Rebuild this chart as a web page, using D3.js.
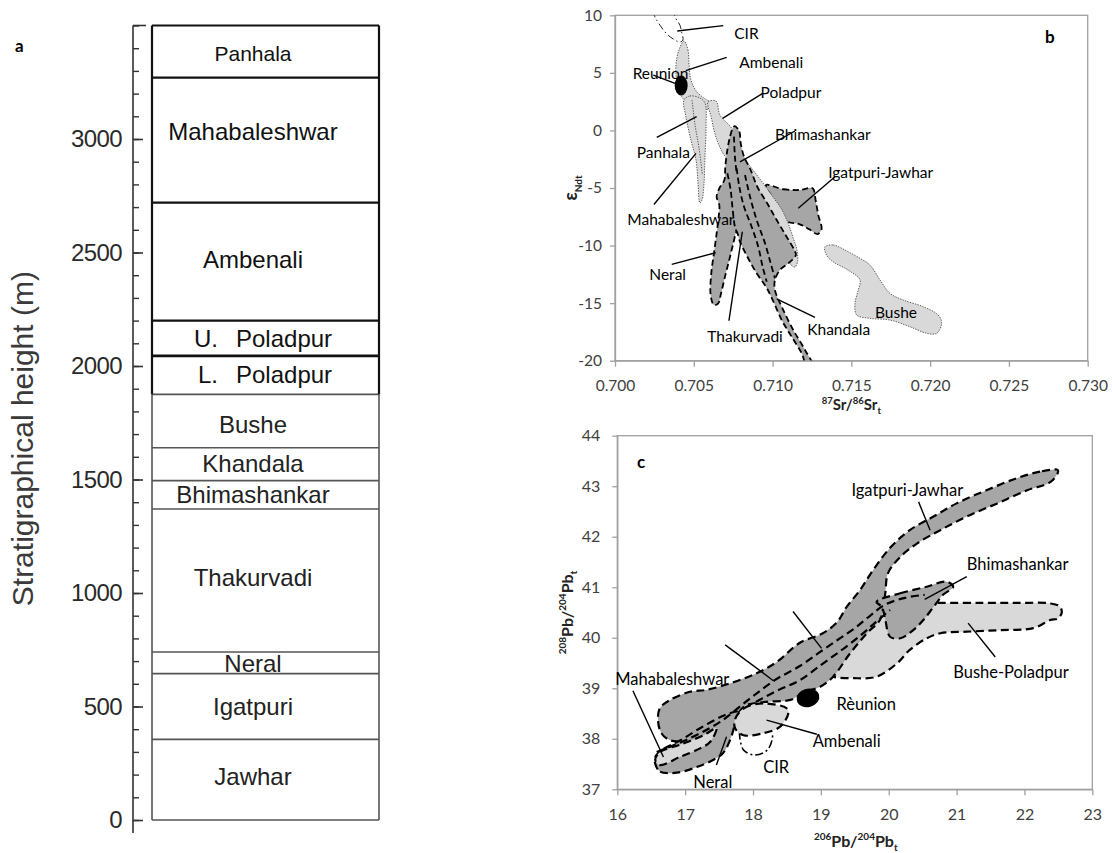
<!DOCTYPE html>
<html>
<head>
<meta charset="utf-8">
<script src="https://cdn.jsdelivr.net/npm/d3@7/dist/d3.min.js"></script>
<style>
  body { margin: 0; background: #fff; }
  svg { display: block; }
</style>
</head>
<body>
<svg id="fig" width="1112" height="853"></svg>
<script>
// ================= Panel a: stratigraphic column =================
const formations    = ["Jawhar", "Igatpuri", "Neral", "Thakurvadi", "Bhimashankar", "Khandala",
                       "Bushe", "L. Poladpur", "U. Poladpur", "Ambenali", "Mahabaleshwar", "Panhala"];
const formationBase = [0, 355, 645, 740, 1370, 1495, 1640, 1875, 2045, 2200, 2720, 3270];
const formationTop  = [355, 645, 740, 1370, 1495, 1640, 1875, 2045, 2200, 2720, 3270, 3500];
const labelHeight   = [191, 498, 690, 1069, 1435, 1571, 1743, 1961, 2122, 2470, 3033, 3376];
const heightTicks   = [0, 500, 1000, 1500, 2000, 2500, 3000];
const heightMinor   = d3.range(0, 3501, 100);

// ================= Panel b: eNd vs 87Sr/86Sr =================
const srTicks = [0.700, 0.705, 0.710, 0.715, 0.720, 0.725, 0.730];
const ndTicks = [-20, -15, -10, -5, 0, 5, 10];

const cirNd = [[0.7024,10.4],[0.70254,9.85],[0.70286,9.13],[0.70338,8.26],[0.70412,7.68],
               [0.70431,7.85],[0.70422,8.58],[0.70412,9.15],[0.70387,9.71],[0.7037,10.3]];
const ambenaliNd = [[0.70438,7.77],[0.70463,6.99],[0.7047,5.68],[0.70482,4.38],[0.7052,3.34],
                    [0.70584,2.64],[0.70615,2.38],[0.70603,1.95],[0.70539,1.77],[0.70476,2.21],
                    [0.70425,2.90],[0.70393,4.20],[0.70387,5.68],[0.70406,6.99]];
const panhalaNd = [[0.70438,2.64],[0.70476,2.99],[0.70539,2.82],[0.70571,2.38],[0.70578,0.47],
                   [0.70571,-2.30],[0.70565,-4.57],[0.70552,-6.04],[0.70539,-6.30],[0.70527,-4.57],
                   [0.70514,-2.57],[0.70482,-0.83],[0.7045,1.17]];
const panhalaInnerNd = [[0.70489,2.64],[0.70508,0.47],[0.70533,-1.5],[0.70555,-3.87]];
const poladpurNd = [[0.7059,2.47],[0.70641,2.56],[0.70666,1.34],[0.70749,0.04],[0.70812,-2.22],
                    [0.70876,-3.44],[0.70939,-4.57],[0.71003,-5.78],[0.7106,-6.91],[0.71098,-8.04],
                    [0.71129,-9.26],[0.71155,-10.39],[0.71158,-11.43],[0.71142,-11.86],[0.71117,-11.69],
                    [0.71091,-10.82],[0.71015,-9.08],[0.7092,-6.91],[0.70825,-4.74],[0.70749,-3.00],
                    [0.70692,-2.13],[0.70654,-1.09],[0.70628,0.04],[0.70609,1.25],[0.7059,2.12]];
const igatpuriNd = [[0.70958,-4.74],[0.71068,-5.11],[0.71174,-5.17],[0.71254,-5.03],[0.71273,-6.04],
                    [0.7129,-7.35],[0.71311,-8.59],[0.71286,-9.00],[0.71233,-8.59],[0.71169,-8.13],
                    [0.711,-7.95],[0.71047,-7.20],[0.70994,-5.76]];
// envelope of Bhimashankar, Thakurvadi, Khandala and Neral
const coreNd = [[0.70761,0.38],[0.70789,-0.11],[0.70798,-1.12],[0.70819,-2.28],[0.70861,-3.44],
                [0.70903,-4.89],[0.70966,-6.33],[0.71026,-7.78],[0.71089,-9.23],[0.71138,-10.39],
                [0.71148,-10.82],[0.711,-11.54],[0.71047,-12.12],[0.71015,-12.99],[0.71015,-13.86],
                [0.71058,-15.31],[0.71131,-17.33],[0.71206,-19.07],[0.71254,-20.4],[0.71216,-20.4],
                [0.71185,-19.36],[0.71121,-17.92],[0.71058,-16.47],[0.71001,-14.73],[0.70958,-13.57],
                [0.70899,-12.41],[0.7084,-10.97],[0.70793,-9.66],[0.70772,-8.80],[0.70751,-9.80],
                [0.70725,-11.25],[0.70698,-12.70],[0.70673,-14.15],[0.70655,-15.02],[0.70628,-15.16],
                [0.70607,-14.30],[0.70611,-12.41],[0.70628,-10.67],[0.70645,-8.94],[0.70658,-7.49],
                [0.70662,-6.48],[0.70645,-5.76],[0.70662,-5.03],[0.70694,-4.31],[0.707,-3.15],
                [0.70713,-1.70],[0.7073,-0.54],[0.70747,0.18]];
const coreSeamsNd = [
  [[0.70755,-0.54],[0.70761,-2.28],[0.70772,-3.72]],
  [[0.70713,-3.72],[0.70734,-5.17],[0.70747,-6.91],[0.70761,-8.36],[0.70776,-8.94]],
  [[0.70772,-3.29],[0.70789,-4.89],[0.70819,-6.62],[0.70867,-8.36],[0.70909,-10.10],[0.70937,-11.84],[0.70963,-13.14]],
  [[0.70825,-3.87],[0.70857,-5.76],[0.70899,-7.78],[0.70952,-9.80],[0.70988,-11.54],[0.71015,-12.85]]
];
const busheNd = [[0.71332,-10.12],[0.71385,-9.95],[0.71478,-10.53],[0.71555,-11.11],[0.71618,-11.69],
                 [0.71682,-12.99],[0.71745,-14.15],[0.71829,-14.73],[0.71956,-15.31],[0.72051,-16.03],
                 [0.72073,-16.75],[0.72041,-17.62],[0.71978,-17.62],[0.71872,-17.05],[0.71745,-16.47],
                 [0.71618,-16.32],[0.71534,-16.03],[0.71523,-15.02],[0.71544,-13.86],[0.71555,-12.99],
                 [0.71478,-12.12],[0.71383,-11.40],[0.71342,-10.82]];
const reunionNd = [0.7042, 3.9];

const ndLabelText = ["CIR", "Ambenali", "Reunion", "Poladpur", "Bhimashankar", "Igatpuri-Jawhar",
                     "Panhala", "Mahabaleshwar", "Neral", "Thakurvadi", "Khandala", "Bushe"];
const ndLabelAt = [[0.70757,7.94],[0.70789,5.40],[0.70112,4.49],[0.70924,2.79],[0.71015,-0.83],
                   [0.71353,-4.16],[0.70138,-2.42],[0.70078,-8.21],[0.70218,-12.99],[0.70586,-18.35],
                   [0.7122,-17.77],[0.7165,-16.32]];
const ndLeaders = [
  [[0.70395,8.64],[0.70687,9.10]],
  [[0.70449,5.19],[0.70709,6.35]],
  [[0.70243,4.81],[0.70381,4.09]],
  [[0.70683,1.05],[0.70937,3.22]],
  [[0.70793,-2.74],[0.71142,-0.05]],
  [[0.71163,-6.76],[0.71396,-4.02]],
  [[0.70265,-0.60],[0.70518,1.19]],
  [[0.70247,-6.43],[0.70514,-1.99]],
  [[0.7036,-11.63],[0.70639,-10.62]],
  [[0.70723,-16.53],[0.70808,-8.80]],
  [[0.71026,-14.64],[0.71269,-16.23]]
];

// ================= Panel c: 208Pb/204Pb vs 206Pb/204Pb =================
const pb6Ticks = [16, 17, 18, 19, 20, 21, 22, 23];
const pb8Ticks = [37, 38, 39, 40, 41, 42, 43, 44];

const bushePoladpurPb = [[19.82,40.71],[20.17,40.69],[20.76,40.69],[21.40,40.69],[21.89,40.69],
                         [22.38,40.68],[22.52,40.62],[22.55,40.50],[22.49,40.38],[22.38,40.35],
                         [22.13,40.19],[21.64,40.15],[21.15,40.12],[20.76,40.09],[20.56,39.99],
                         [20.31,39.76],[20.12,39.49],[19.82,39.23],[19.48,39.20],[19.18,39.23],
                         [19.06,39.32],[19.29,39.76],[19.58,40.25]];
const cirPb = [[17.80,38.14],[17.81,37.98],[17.86,37.78],[18.00,37.68],[18.15,37.72],
               [18.23,37.81],[18.28,37.97],[18.29,38.10]];
const ambenaliPb = [[17.73,38.37],[17.86,38.60],[18.15,38.70],[18.50,38.60],[18.52,38.50],
                    [18.40,38.24],[18.15,38.11],[17.86,38.07],[17.74,38.20]];
const igatpuriPb = [[22.49,43.32],[22.23,43.29],[21.89,43.16],[21.44,42.92],[21.00,42.66],
                    [20.66,42.40],[20.31,42.13],[20.02,41.78],[19.77,41.34],[19.58,40.95],
                    [19.38,40.61],[19.24,40.31],[19.03,40.09],[18.69,39.90],[18.35,39.52],
                    [18.06,39.30],[17.71,39.12],[17.32,38.97],[17.07,38.93],[16.78,38.77],
                    [16.63,38.61],[16.60,38.37],[16.65,38.11],[16.78,37.97],[16.97,37.96],
                    [17.17,38.05],[17.39,38.21],[17.73,38.43],[17.88,38.65],[18.18,38.73],
                    [18.55,38.77],[18.77,38.93],[18.99,39.03],[19.18,39.23],[19.43,39.69],
                    [19.68,40.09],[19.87,40.35],[19.92,40.61],[19.95,40.89],[19.99,41.28],
                    [20.17,41.60],[20.42,41.87],[20.76,42.13],[21.15,42.40],[21.60,42.66],
                    [22.04,42.92],[22.38,43.08],[22.49,43.26]];
const neralPb = [[16.56,37.50],[16.63,37.35],[16.88,37.33],[17.17,37.44],[17.41,37.58],
                 [17.56,37.72],[17.66,37.97],[17.73,38.27],[17.78,38.53],[17.59,38.47],
                 [17.22,38.21],[16.93,37.97],[16.66,37.78],[16.56,37.64]];
const bhimashankarPb = [[19.82,40.71],[20.17,40.88],[20.56,41.01],[20.85,41.11],[20.95,41.01],
                        [20.80,40.85],[20.66,40.61],[20.51,40.35],[20.36,40.15],[20.17,39.99],
                        [20.02,40.02],[19.95,40.35],[19.90,40.61]];
const mahabaleshwarPb = [[16.56,37.58],[16.63,37.74],[16.92,37.88],[17.27,38.07],[17.46,38.21],
                         [17.37,37.94],[17.22,37.81],[16.92,37.64],[16.63,37.48]];
const seamsPb = [
  [[16.58,37.74],[17.07,38.01],[17.51,38.33],[17.93,38.77],[18.32,39.16],[18.69,39.44],
   [18.99,39.72],[19.25,39.96],[19.50,40.19],[19.72,40.43],[19.94,40.65],[20.24,40.79],[20.53,40.85]],
  [[17.88,38.61],[18.32,38.93],[18.69,39.16],[19.02,39.48],[19.31,39.76],[19.58,40.04],
   [19.81,40.31],[20.02,40.55]]
];
const reunionPb = [18.81, 38.81];

const pbLabelText = ["Igatpuri-Jawhar", "Bhimashankar", "Bushe-Poladpur", "Rèunion", "Ambenali",
                     "CIR", "Neral", "Mahabaleshwar"];
const pbLabelAt = [[19.45,42.81],[21.15,41.34],[20.95,39.20],[19.23,38.57],[18.88,37.84],
                   [18.15,37.32],[17.12,37.02],[15.97,39.06]];
const pbLeaders = [
  [[20.44,42.69],[20.61,42.13]],
  [[20.53,40.76],[21.15,41.21]],
  [[21.17,40.29],[21.57,39.62]],
  [[18.20,38.37],[18.94,38.09]],
  [[17.46,37.48],[17.61,38.04]],
  [[16.23,38.95],[16.68,37.64]],
  [[17.59,39.86],[18.30,39.15]],
  [[18.59,40.52],[19.01,39.79]]
];

// ================= drawing =================
const svg = d3.select("#fig");
const DARK = "#a6a6a6", LIGHT = "#d9d9d9", AXIS = "#a0a0a0", TICKTXT = "#404040";
const CAL = "Lato, 'Open Sans', sans-serif";
const ARIAL = "'Liberation Sans', Arial, sans-serif";

function rich(textSel, parts, size, small) {
  let shift = 0;
  parts.forEach(([s, kind]) => {
    const target = kind === "sup" ? -0.42 * size : kind === "sub" ? 0.28 * size : 0;
    textSel.append("tspan").attr("dy", target - shift)
      .attr("font-size", kind ? small : size).text(s);
    shift = target;
  });
}

// ---------- panel a ----------
{
  const g = svg.append("g");
  const y = d3.scaleLinear().domain([0, 3500]).range([820, 25.5]);
  const axX = 133, colL = 152, colR = 379;

  // axis spine and cap
  g.append("line").attr("x1", axX).attr("x2", axX)
    .attr("y1", y(3500)).attr("y2", y(0) + 13)
    .attr("stroke", "#333").attr("stroke-width", 1.6);
  g.append("line").attr("x1", axX).attr("x2", axX + 13)
    .attr("y1", y(3500)).attr("y2", y(3500))
    .attr("stroke", "#333").attr("stroke-width", 1.6);

  const minor = g.append("g").attr("transform", `translate(${axX},0)`)
    .call(d3.axisLeft(y).tickValues(heightMinor).tickSize(-6).tickFormat(""));
  minor.select(".domain").remove();
  minor.selectAll("line").attr("stroke", "#333").attr("stroke-width", 1.4);

  const major = g.append("g").attr("transform", `translate(${axX},0)`)
    .call(d3.axisLeft(y).tickValues(heightTicks).tickSize(-10).tickPadding(11)
      .tickFormat(d => String(d)));
  major.select(".domain").remove();
  major.selectAll("line").attr("stroke", "#333").attr("stroke-width", 1.6);
  major.selectAll("text").attr("font-family", ARIAL).attr("font-size", 24)
    .attr("fill", "#2a2a2a").attr("letter-spacing", -0.6);

  g.append("text")
    .attr("transform", `translate(33,${y(1680)}) rotate(-90)`)
    .attr("text-anchor", "middle").attr("font-family", ARIAL).attr("font-size", 30)
    .attr("fill", "#3a3a3a").text("Stratigraphical height (m)");

  // column boundaries: the upper part (Poladpur to Panhala) in black, the lower part in grey
  const split = 1875;
  const upper = { stroke: "#111", w: 2.2 }, lower = { stroke: "#555", w: 1.6 };
  const bounds = Array.from(new Set(formationBase.concat(formationTop)));
  bounds.forEach(h => {
    const s = h > split ? upper : lower;
    g.append("line").attr("x1", colL).attr("x2", colR).attr("y1", y(h)).attr("y2", y(h))
      .attr("stroke", s.stroke).attr("stroke-width", h === 2045 ? 2.8 : s.w);
  });
  [colL, colR].forEach(x => {
    g.append("line").attr("x1", x).attr("x2", x).attr("y1", y(3500)).attr("y2", y(split))
      .attr("stroke", upper.stroke).attr("stroke-width", upper.w);
    g.append("line").attr("x1", x).attr("x2", x).attr("y1", y(split)).attr("y2", y(0))
      .attr("stroke", lower.stroke).attr("stroke-width", lower.w);
  });

  formations.forEach((name, i) => {
    const yy = y(labelHeight[i]);
    const size = name === "Panhala" ? 21 : 24;
    const m = name.match(/^([UL]\.)\s+(.*)$/);
    if (m) {
      g.append("text").attr("x", name[0] === "U" ? 194 : 198).attr("y", yy).attr("dy", "0.35em")
        .attr("font-family", ARIAL).attr("font-size", size).attr("fill", "#111").text(m[1]);
      g.append("text").attr("x", 236).attr("y", yy).attr("dy", "0.35em")
        .attr("font-family", ARIAL).attr("font-size", size).attr("fill", "#111").text(m[2]);
    } else {
      g.append("text").attr("x", 253).attr("y", yy).attr("dy", "0.35em")
        .attr("text-anchor", "middle").attr("font-family", ARIAL).attr("font-size", size)
        .attr("fill", name === "Panhala" || labelHeight[i] > split ? "#111" : "#222").text(name);
    }
  });

  g.append("text").attr("x", 15).attr("y", 52).attr("font-family", CAL)
    .attr("font-weight", 700).attr("font-size", 17).text("a");
}

// ---------- shared axis styling ----------
function styleAxis(sel, size) {
  sel.select(".domain").attr("stroke", AXIS).attr("stroke-width", 1.3);
  sel.selectAll(".tick line").attr("stroke", AXIS).attr("stroke-width", 1.3);
  sel.selectAll("text").attr("font-family", CAL).attr("font-size", size).attr("fill", TICKTXT);
}

// ---------- panel b ----------
{
  const g = svg.append("g");
  const x = d3.scaleLinear().domain([0.700, 0.730]).range([615, 1087.7]);
  const y = d3.scaleLinear().domain([-20, 10]).range([360.7, 15.3]);
  const closed = d3.line().x(d => x(d[0])).y(d => y(d[1])).curve(d3.curveCatmullRomClosed.alpha(0.5));
  const open = d3.line().x(d => x(d[0])).y(d => y(d[1])).curve(d3.curveCatmullRom.alpha(0.5));

  g.append("clipPath").attr("id", "clipB").append("rect")
    .attr("x", x(0.700)).attr("y", y(10)).attr("width", x(0.730) - x(0.700)).attr("height", y(-20) - y(10));
  g.append("rect").attr("x", x(0.700)).attr("y", y(10))
    .attr("width", x(0.730) - x(0.700)).attr("height", y(-20) - y(10))
    .attr("fill", "none").attr("stroke", AXIS).attr("stroke-width", 1.3);

  const f = g.append("g").attr("clip-path", "url(#clipB)");
  const dotted = { stroke: "#444", "stroke-width": 0.9, "stroke-dasharray": "1.3 1.3" };
  const dashed = { stroke: "#000", "stroke-width": 1.8, "stroke-dasharray": "6 3.5" };
  const attrs = (sel, o) => { Object.entries(o).forEach(([k, v]) => sel.attr(k, v)); return sel; };

  attrs(f.append("path").attr("d", closed(busheNd)).attr("fill", LIGHT), dotted);
  attrs(f.append("path").attr("d", closed(ambenaliNd)).attr("fill", LIGHT), dotted);
  attrs(f.append("path").attr("d", closed(panhalaNd)).attr("fill", LIGHT), dotted);
  attrs(f.append("path").attr("d", open(panhalaInnerNd)).attr("fill", "none"), dotted);
  f.append("path").attr("d", open(cirNd)).attr("fill", "none").attr("stroke", "#222")
    .attr("stroke-width", 1).attr("stroke-dasharray", "7 3 1.5 3");
  attrs(f.append("path").attr("d", closed(igatpuriNd)).attr("fill", DARK), dashed);
  attrs(f.append("path").attr("d", closed(poladpurNd)).attr("fill", LIGHT), dotted);
  attrs(f.append("path").attr("d", closed(coreNd)).attr("fill", DARK), dashed);
  coreSeamsNd.forEach(s => attrs(f.append("path").attr("d", open(s)).attr("fill", "none"), dashed));

  f.append("ellipse").attr("cx", x(reunionNd[0])).attr("cy", y(reunionNd[1]))
    .attr("rx", 6.5).attr("ry", 10).attr("fill", "#000");

  const ax = g.append("g").attr("transform", `translate(0,${y(-20)})`)
    .call(d3.axisBottom(x).tickValues(srTicks).tickSize(6).tickSizeOuter(0).tickPadding(13)
      .tickFormat(d => d.toFixed(3)));
  styleAxis(ax, 15.5);
  const ay = g.append("g").attr("transform", `translate(${x(0.700)},0)`)
    .call(d3.axisLeft(y).tickValues(ndTicks).tickSize(5).tickSizeOuter(0).tickPadding(8)
      .tickFormat(d => String(d)));
  styleAxis(ay, 15.5);

  ndLeaders.forEach(l => g.append("line")
    .attr("x1", x(l[0][0])).attr("y1", y(l[0][1])).attr("x2", x(l[1][0])).attr("y2", y(l[1][1]))
    .attr("stroke", "#000").attr("stroke-width", 1.4));
  ndLabelText.forEach((t, i) => g.append("text")
    .attr("x", x(ndLabelAt[i][0])).attr("y", y(ndLabelAt[i][1]))
    .attr("font-family", CAL).attr("font-size", 15.5).attr("fill", "#000").text(t));

  const xt = g.append("text").attr("x", (x(0.700) + x(0.730)) / 2).attr("y", 410)
    .attr("text-anchor", "middle").attr("font-family", CAL).attr("font-weight", 700).attr("fill", "#222");
  rich(xt, [["87", "sup"], ["Sr/"], ["86", "sup"], ["Sr"], ["t", "sub"]], 15, 9.5);
  const yt = g.append("text").attr("transform", `translate(577,${(y(10) + y(-20)) / 2}) rotate(-90)`)
    .attr("text-anchor", "middle").attr("font-family", CAL).attr("font-weight", 700).attr("fill", "#222");
  rich(yt, [["ε"], ["Ndt", "sub"]], 18, 10);

  g.append("text").attr("x", 1045).attr("y", 43).attr("font-family", CAL)
    .attr("font-weight", 700).attr("font-size", 17).text("b");
}

// ---------- panel c ----------
{
  const g = svg.append("g");
  const x = d3.scaleLinear().domain([16, 23]).range([617.3, 1092.3]);
  const y = d3.scaleLinear().domain([37, 44]).range([789.3, 435.7]);
  const closed = d3.line().x(d => x(d[0])).y(d => y(d[1])).curve(d3.curveCatmullRomClosed.alpha(0.5));
  const open = d3.line().x(d => x(d[0])).y(d => y(d[1])).curve(d3.curveCatmullRom.alpha(0.5));

  g.append("clipPath").attr("id", "clipC").append("rect")
    .attr("x", x(16)).attr("y", y(44)).attr("width", x(23) - x(16)).attr("height", y(37) - y(44));
  g.append("rect").attr("x", x(16)).attr("y", y(44))
    .attr("width", x(23) - x(16)).attr("height", y(37) - y(44))
    .attr("fill", "none").attr("stroke", AXIS).attr("stroke-width", 1.3);

  const f = g.append("g").attr("clip-path", "url(#clipC)");
  const dashed = sel => sel.attr("stroke", "#000").attr("stroke-width", 2.2).attr("stroke-dasharray", "8 4.5");

  dashed(f.append("path").attr("d", closed(bushePoladpurPb)).attr("fill", LIGHT));
  f.append("path").attr("d", open(cirPb)).attr("fill", "none").attr("stroke", "#000")
    .attr("stroke-width", 1.6).attr("stroke-dasharray", "8 3 2 3");
  dashed(f.append("path").attr("d", closed(igatpuriPb)).attr("fill", DARK));
  dashed(f.append("path").attr("d", closed(neralPb)).attr("fill", DARK));
  dashed(f.append("path").attr("d", closed(bhimashankarPb)).attr("fill", DARK));
  dashed(f.append("path").attr("d", closed(mahabaleshwarPb)).attr("fill", LIGHT));
  seamsPb.forEach(s => dashed(f.append("path").attr("d", open(s)).attr("fill", "none")));
  dashed(f.append("path").attr("d", closed(ambenaliPb)).attr("fill", LIGHT));
  f.append("ellipse").attr("cx", x(reunionPb[0])).attr("cy", y(reunionPb[1]))
    .attr("rx", 11.5).attr("ry", 9.3).attr("fill", "#000")
    .attr("transform", `rotate(-15 ${x(reunionPb[0])} ${y(reunionPb[1])})`);

  const ax = g.append("g").attr("transform", `translate(0,${y(37)})`)
    .call(d3.axisBottom(x).tickValues(pb6Ticks).tickSize(6).tickSizeOuter(0).tickPadding(13)
      .tickFormat(d => String(d)));
  styleAxis(ax, 16);
  const ay = g.append("g").attr("transform", `translate(${x(16)},0)`)
    .call(d3.axisLeft(y).tickValues(pb8Ticks).tickSize(5).tickSizeOuter(0).tickPadding(12)
      .tickFormat(d => String(d)));
  styleAxis(ay, 16);

  pbLeaders.forEach(l => g.append("line")
    .attr("x1", x(l[0][0])).attr("y1", y(l[0][1])).attr("x2", x(l[1][0])).attr("y2", y(l[1][1]))
    .attr("stroke", "#000").attr("stroke-width", 1.4));
  pbLabelText.forEach((t, i) => g.append("text")
    .attr("x", x(pbLabelAt[i][0])).attr("y", y(pbLabelAt[i][1]))
    .attr("font-family", CAL).attr("font-size", 16.5).attr("fill", "#000").text(t));

  const xt = g.append("text").attr("x", (x(16) + x(23)) / 2 + 1).attr("y", 847)
    .attr("text-anchor", "middle").attr("font-family", CAL).attr("font-weight", 700).attr("fill", "#222");
  rich(xt, [["206", "sup"], ["Pb/"], ["204", "sup"], ["Pb"], ["t", "sub"]], 16, 10);
  const yt = g.append("text").attr("transform", `translate(573,${(y(44) + y(37)) / 2}) rotate(-90)`)
    .attr("text-anchor", "middle").attr("font-family", CAL).attr("font-weight", 700).attr("fill", "#222");
  rich(yt, [["208", "sup"], ["Pb/"], ["204", "sup"], ["Pb"], ["t", "sub"]], 16, 10);

  g.append("text").attr("x", 637).attr("y", 468).attr("font-family", CAL)
    .attr("font-weight", 700).attr("font-size", 17).text("c");
}
</script>
</body>
</html>
